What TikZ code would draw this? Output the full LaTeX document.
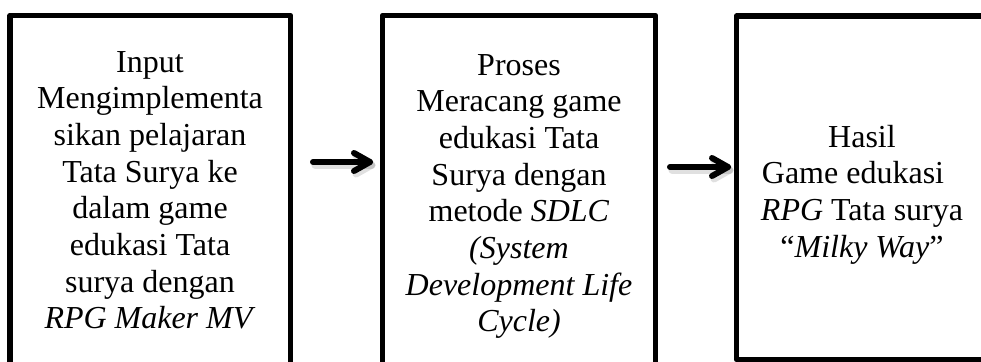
\documentclass[tikz,border=0pt]{standalone}
\usepackage{fontspec}
\setmainfont{Liberation Serif}
\usetikzlibrary{calc}
\begin{document}
\begin{tikzpicture}[x=1pt,y=-1pt,
  boxline/.style={draw=black, line width=5.5pt, line join=round, rectangle, inner sep=0pt, outer sep=0pt, anchor=north west},
  txt/.style={anchor=base, inner sep=0pt, outer sep=0pt},
  arrowline/.style={line width=6pt, line cap=round, line join=round, black},
  shadowline/.style={line width=7pt, line cap=round, line join=round, black, opacity=0.12}]
\useasboundingbox (0,0) rectangle (981,361);
\clip (0,0) rectangle (981,361);
\newcommand{\boxtext}[1]{\parbox[t]{300pt}{\centering\fontsize{32}{36.7}\selectfont #1}}
% boxes
\node[boxline, minimum width=280.5pt, minimum height=384.5pt] (box1) at (10,15.5) {};
\node[boxline, minimum width=273pt, minimum height=384.5pt] (box2) at (382.5,15.5) {};
\node[boxline, minimum width=263.5pt, minimum height=343.5pt] (box3) at (736.5,16) {};
% texts
\node[txt] (t1) at (150,72) {\boxtext{Input\\ Mengimplementa\\ sikan pelajaran\\ Tata Surya ke\\ dalam game\\ edukasi Tata\\ surya dengan\\ \textit{RPG Maker MV}}};
\node[txt] (t2) at (519,75) {\boxtext{Proses\\ Meracang game\\ edukasi Tata\\ Surya dengan\\ metode \textit{SDLC}\\ \textit{(System}\\ \textit{Development Life}\\ \textit{Cycle)}}};
\node[txt] (t3) at (862,147) {\boxtext{Hasil\\ Game edukasi\makebox[18pt]{}\\ \textit{RPG} Tata surya\\ “\textit{Milky Way}”}};
% arrows
\coordinate (a1s) at (313,162);
\coordinate (a1e) at (370,162);
\coordinate (a2s) at (670,167);
\coordinate (a2e) at (728,167);
\foreach \s/\e in {a1s/a1e, a2s/a2e}{
  \draw[shadowline] ($(\s)+(2,3)$) -- ($(\e)+(2,3)$);
  \draw[shadowline] ($(\e)+(-14,-6)$) -- ($(\e)+(2,3)$) -- ($(\e)+(-14,12)$);
  \draw[arrowline] (\s) -- (\e);
  \draw[arrowline] ($(\e)+(-16,-9)$) -- (\e) -- ($(\e)+(-16,9)$);
}
\end{tikzpicture}
\end{document}
